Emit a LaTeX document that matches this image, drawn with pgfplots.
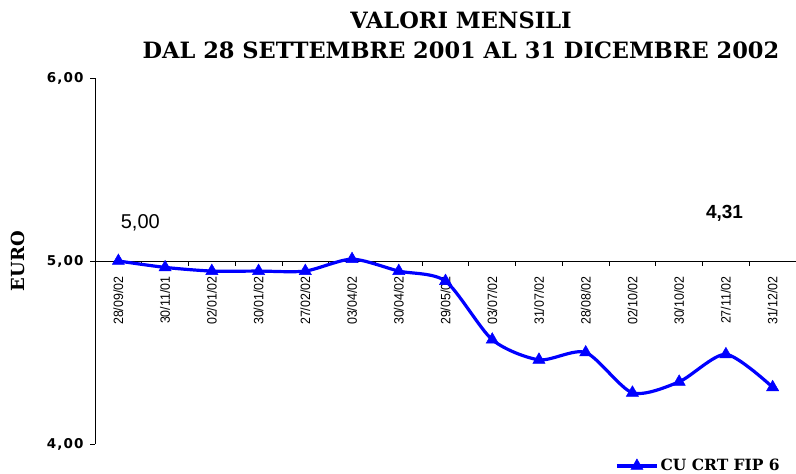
\documentclass[border=0pt]{standalone}
\usepackage{fontspec}
\setmainfont{Liberation Sans}
\newfontfamily\slabfont{DejaVu Serif}
\newfontfamily\verdfont{DejaVu Sans}[LetterSpace=8]
\newfontfamily\datefont{Liberation Sans}[FakeStretch=0.92]
\usepackage{pgfplots}
\pgfplotsset{compat=1.18}
\definecolor{serie}{RGB}{0,0,255}

\begin{document}
\begin{tikzpicture}
\path[use as bounding box] (0pt,0pt) rectangle (796pt,474pt);
\node[font=\slabfont\bfseries\fontsize{22.5}{30}\selectfont, align=center] at (461pt,439pt)
  {VALORI MENSILI\\DAL 28 SETTEMBRE 2001 AL 31 DICEMBRE 2002};
\begin{axis}[%
scale only axis,
width=701pt,
height=366pt,
at={(95pt,30pt)},
anchor=south west,
xmin=-0.5, xmax=14.5,
ymin=4, ymax=6,
axis y line*=left,
axis x line*=bottom,
axis x line shift=-183pt,
tick align=outside,
/pgf/number format/assume math mode=true,
xtick={0,...,14},
xticklabels={28/09/02,30/11/01,02/01/02,30/01/02,27/02/02,03/04/02,30/04/02,29/05/02,03/07/02,31/07/02,28/08/02,02/10/02,30/10/02,27/11/02,31/12/02},
minor xtick={-0.5,0.5,...,14.5},
major x tick style={draw=none},
minor x tick style={black, line width=0.8pt},
minor tick length=5pt,
major tick length=5pt,
x tick label style={rotate=90, anchor=east, font=\datefont\fontsize{13.5}{15}\selectfont},
xticklabel shift=7pt,
ytick={4,5,6},
y tick label style={font=\verdfont\bfseries\fontsize{13.5}{15}\selectfont, xshift=-3pt},
yticklabel={\pgfmathprintnumber[fixed,fixed zerofill,precision=2,use comma]{\tick}},
y axis line style={line width=0.8pt},
x axis line style={line width=0.8pt},
ytick style={black, line width=0.8pt},
ylabel={EURO},
every axis y label/.style={at={(rel axis cs:0,0.5)}, xshift=-77pt, rotate=90, anchor=center, font=\slabfont\bfseries\fontsize{18}{20}\selectfont},
legend style={at={(0.742,-0.06)}, anchor=west, draw=none, fill=none, font=\slabfont\bfseries\fontsize{15.5}{17}\selectfont, inner sep=0pt},
legend image code/.code={\draw[mark repeat=2,mark phase=2] plot coordinates {(0pt,0pt) (20pt,0pt) (40pt,0pt)};},
clip=false,
]
\addplot[color=serie, line width=3.2pt, smooth, tension=0.45, mark=triangle*, mark size=7pt, mark options={solid, line width=0.5pt}] coordinates {
(0,5.00)
(1,4.965)
(2,4.945)
(3,4.945)
(4,4.945)
(5,5.01)
(6,4.945)
(7,4.89)
(8,4.57)
(9,4.46)
(10,4.50)
(11,4.28)
(12,4.34)
(13,4.49)
(14,4.31)
};
\addlegendentry{CU CRT FIP 6}
\node[font=\fontsize{20}{22}\selectfont] at (axis cs:0.47,5.21) {5,00};
\node[font=\bfseries\fontsize{19}{22}\selectfont] at (axis cs:12.97,5.26) {4,31};
\end{axis}
\end{tikzpicture}
\end{document}
